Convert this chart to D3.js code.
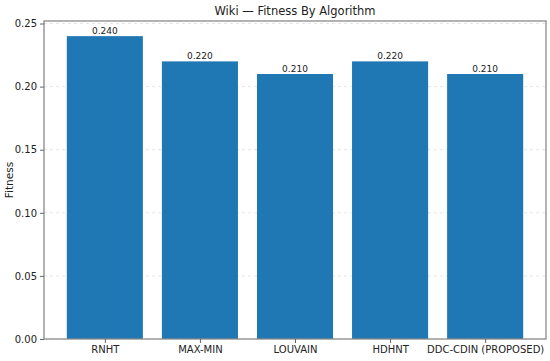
<!DOCTYPE html>
<html>
<head>
<meta charset="utf-8">
<script src="https://cdn.jsdelivr.net/npm/d3@7"></script>
<style>
  body { margin: 0; background: #fff; }
  text { font-family: "DejaVu Sans", sans-serif; fill: #222; }
</style>
</head>
<body>
<div id="chart"></div>
<script>
const width = 550,
  height = 361,
  margin = { top: 21, right: 4, bottom: 22, left: 44 }

// data
const algorithms = ["RNHT", "MAX-MIN", "LOUVAIN", "HDHNT", "DDC-CDIN (PROPOSED)"]
const fitness = [0.24, 0.22, 0.21, 0.22, 0.21]
const yTicks = [0.00, 0.05, 0.10, 0.15, 0.20, 0.25]

const svg = d3.select("#chart")
  .append("svg")
  .attr("width", width)
  .attr("height", height)

// matplotlib-like x range: bar width 0.8, 5% margins
const x = d3.scaleLinear()
  .domain([-0.64, algorithms.length - 1 + 0.64])
  .range([margin.left, width - margin.right])

const y = d3.scaleLinear()
  .domain([0, 0.252])
  .range([height - margin.bottom, margin.top])

// grid lines
svg.append("g")
  .selectAll("line")
  .data(yTicks)
  .join("line")
  .attr("x1", margin.left)
  .attr("x2", width - margin.right)
  .attr("y1", d => y(d))
  .attr("y2", d => y(d))
  .attr("stroke", "#ccc")
  .attr("stroke-width", 0.8)
  .attr("stroke-dasharray", "3,3")
  .attr("opacity", 0.6)

// bars
svg.append("g")
  .selectAll("rect")
  .data(fitness)
  .join("rect")
  .attr("x", (d, i) => x(i - 0.4))
  .attr("width", x(0.4) - x(-0.4))
  .attr("y", d => y(d))
  .attr("height", d => y(0) - y(d))
  .attr("fill", "#1f77b4")

// value labels
svg.append("g")
  .selectAll("text")
  .data(fitness)
  .join("text")
  .attr("x", (d, i) => x(i))
  .attr("y", d => y(d) - 2)
  .attr("text-anchor", "middle")
  .style("font-size", "9px")
  .text(d => d.toFixed(3))

// frame
svg.append("rect")
  .attr("x", margin.left)
  .attr("y", margin.top)
  .attr("width", width - margin.right - margin.left)
  .attr("height", height - margin.bottom - margin.top)
  .attr("fill", "none")
  .attr("stroke", "#8a8a8a")
  .attr("stroke-width", 1.3)

// y axis
const yAxis = svg.append("g")
  .attr("transform", `translate(${margin.left},0)`)
  .call(d3.axisLeft(y).tickValues(yTicks).tickFormat(d3.format(".2f")).tickSize(4).tickPadding(3))
yAxis.select(".domain").remove()
yAxis.selectAll("line").attr("stroke", "#666")
yAxis.selectAll("text").style("font-size", "10px").style("font-family", "DejaVu Sans, sans-serif").attr("fill", "#222")

// x axis
const xAxis = svg.append("g")
  .attr("transform", `translate(0,${height - margin.bottom})`)
  .call(d3.axisBottom(x).tickValues(d3.range(algorithms.length)).tickFormat(i => algorithms[i]).tickSize(4).tickPadding(3))
xAxis.select(".domain").remove()
xAxis.selectAll("line").attr("stroke", "#666")
xAxis.selectAll("text").style("font-size", "10px").style("font-family", "DejaVu Sans, sans-serif").attr("fill", "#222")

// title
svg.append("text")
  .attr("x", (margin.left + width - margin.right) / 2)
  .attr("y", 15)
  .attr("text-anchor", "middle")
  .style("font-size", "11.5px")
  .text("Wiki \u2014 Fitness By Algorithm")

// y label
svg.append("text")
  .attr("transform", `translate(13,${(margin.top + height - margin.bottom) / 2}) rotate(-90)`)
  .attr("text-anchor", "middle")
  .style("font-size", "10.5px")
  .text("Fitness")
</script>
</body>
</html>
